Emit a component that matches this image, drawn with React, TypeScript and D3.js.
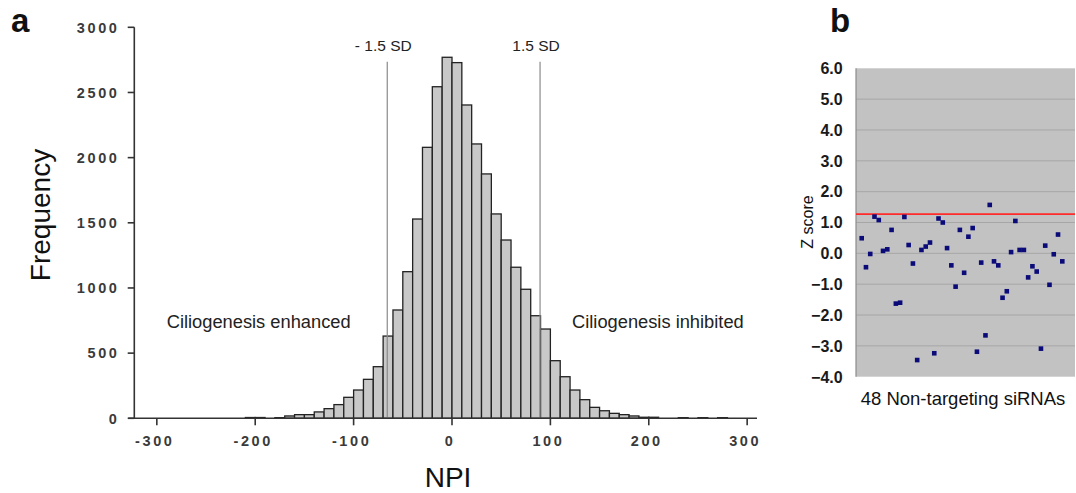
import * as d3 from "d3";

// panel a: NPI histogram (bin lower edge, width 10)
const binStarts = [
  -210, -200, -190, -180, -170, -160, -150, -140, -130, -120, -110, -100, -90,
  -80, -70, -60, -50, -40, -30, -20, -10, 0, 10, 20, 30, 40, 50, 60, 70, 80, 90,
  100, 110, 120, 130, 140, 150, 160, 170, 180, 190, 200, 210, 220, 230, 240,
  250, 260, 270,
];
const binCounts = [
  6, 6, 0, 5, 18, 28, 28, 49, 74, 105, 161, 217, 299, 396, 631, 831, 1125, 1529,
  2079, 2544, 2770, 2729, 2404, 2105, 1875, 1568, 1368, 1159, 990, 787, 685, 442,
  319, 217, 143, 84, 58, 38, 28, 18, 8, 8, 0, 0, 5, 0, 5, 0, 5,
];
const binWidth = 10;
const npiTicks = [-300, -200, -100, 0, 100, 200, 300];
const freqTicks = [0, 500, 1000, 1500, 2000, 2500, 3000];
const sdLines = [
  { label: "- 1.5 SD", value: -65.8 },
  { label: "1.5 SD", value: 89.5 },
];

// panel b: Z scores of 48 non-targeting siRNAs
const zScores = [
  0.49, -0.45, -0.02, 1.19, 1.08, 0.08, 0.13, 0.76, -1.63, -1.6, 1.18, 0.27,
  -0.33, -3.46, 0.11, 0.22, 0.35, -3.24, 1.13, 1.0, 0.17, -0.39, -1.08, 0.76,
  -0.63, 0.54, 0.82, -3.19, -0.3, -2.66, 1.57, -0.26, -0.39, -1.44, -1.23, 0.04,
  1.05, 0.11, 0.11, -0.78, -0.42, -0.59, -3.09, 0.25, -1.02, -0.03, 0.61, -0.26,
];
const zTicks = [-4, -3, -2, -1, 0, 1, 2, 3, 4, 5, 6];
const zCutoff = 1.27;

const FONT = "'Liberation Sans', Arial, sans-serif";

export default function App() {
  const x = d3.scaleLinear().domain([-329, 310]).range([128.3, 757]);
  const y = d3.scaleLinear().domain([0, 3000]).range([418.3, 27.3]);

  const zy = d3.scaleLinear().domain([-4, 6]).range([376.7, 68.3]);
  const zx = d3.scaleLinear().domain([1, 48]).range([861.7, 1062.3]);
  const plotL = 856;
  const plotR = 1075;

  return (
    <svg
      width={1076}
      height={493}
      style={{ position: "absolute", left: 0, top: 0, background: "#fff" }}
      fontFamily={FONT}
    >
      {/* panel letters */}
      <text x={11} y={32} fontSize={33} fontWeight="bold" fill="#111">
        a
      </text>
      <text x={830} y={32} fontSize={33} fontWeight="bold" fill="#111">
        b
      </text>

      {/* histogram bars */}
      {binStarts.map((b, i) =>
        binCounts[i] > 0 ? (
          <rect
            key={b}
            x={x(b)}
            y={y(binCounts[i])}
            width={x(b + binWidth) - x(b)}
            height={y(0) - y(binCounts[i])}
            fill="#c8c8c8"
            stroke="#222"
            strokeWidth={1.3}
          />
        ) : null
      )}

      {/* SD lines */}
      {sdLines.map((d) => (
        <g key={d.label}>
          <line
            x1={x(d.value)}
            x2={x(d.value)}
            y1={61.7}
            y2={y(0)}
            stroke="#8a8a8a"
            strokeWidth={1.2}
          />
          <text
            x={x(d.value) - 4}
            y={51}
            fontSize={15.5}
            textAnchor="middle"
            fill="#222"
          >
            {d.label}
          </text>
        </g>
      ))}

      {/* axes */}
      <line x1={x.range()[0]} x2={x.range()[1]} y1={y(0)} y2={y(0)} stroke="#333" strokeWidth={1.6} />
      <line x1={134.3} x2={134.3} y1={y(3000)} y2={y(0)} stroke="#333" strokeWidth={1.6} />
      {npiTicks.map((t) => (
        <g key={t}>
          <line x1={x(t)} x2={x(t)} y1={y(0)} y2={y(0) + 7} stroke="#333" strokeWidth={1.6} />
          <text
            x={x(t) - 2}
            y={445.5}
            fontSize={14.5}
            fontWeight="bold"
            letterSpacing={2.6}
            textAnchor="middle"
            fill="#3a3a3a"
          >
            {t < 0 ? `-${-t}` : t}
          </text>
        </g>
      ))}
      {freqTicks.map((t) => (
        <g key={t}>
          <line x1={127.7} x2={134.3} y1={y(t)} y2={y(t)} stroke="#333" strokeWidth={1.6} />
          <text
            x={119.5}
            y={y(t) + 5.2}
            fontSize={14.5}
            fontWeight="bold"
            letterSpacing={2.6}
            textAnchor="end"
            fill="#3a3a3a"
          >
            {t}
          </text>
        </g>
      ))}

      <text
        transform="translate(50,215) rotate(-90)"
        fontSize={28}
        textAnchor="middle"
        fill="#111"
      >
        Frequency
      </text>
      <text x={448} y={486.7} fontSize={28} textAnchor="middle" fill="#111">
        NPI
      </text>
      <text x={166.7} y={328.3} fontSize={18.3} fill="#222">
        Ciliogenesis enhanced
      </text>
      <text x={572} y={328.3} fontSize={18.3} fill="#222">
        Ciliogenesis inhibited
      </text>

      {/* panel b */}
      <rect x={plotL} y={zy(6)} width={plotR - plotL} height={zy(-4) - zy(6)} fill="#c2c2c2" />
      {zTicks.map((t) => (
        <g key={t}>
          {t > -4 && t < 6 ? (
            <line x1={plotL} x2={plotR} y1={zy(t)} y2={zy(t)} stroke="#a6a6a6" strokeWidth={1} />
          ) : null}
          <text
            x={842.7}
            y={zy(t) + 5.8}
            fontSize={16}
            fontWeight="bold"
            textAnchor="end"
            fill="#1a1a1a"
          >
            {d3.format(".1f")(t)}
          </text>
        </g>
      ))}
      <line x1={plotL} x2={plotL} y1={zy(6)} y2={zy(-4)} stroke="#8c8c8c" strokeWidth={1.2} />
      <line x1={plotL} x2={plotR} y1={zy(zCutoff)} y2={zy(zCutoff)} stroke="#ff2a2a" strokeWidth={1.6} />
      {zScores.map((v, i) => (
        <rect
          key={i}
          x={zx(i + 1) - 2.3}
          y={zy(v) - 2.3}
          width={4.6}
          height={4.6}
          fill="#0a0a78"
        />
      ))}
      <text
        transform="translate(813,222) rotate(-90)"
        fontSize={16}
        textAnchor="middle"
        fill="#111"
      >
        Z score
      </text>
      <text x={963} y={405} fontSize={18.5} textAnchor="middle" fill="#111">
        48 Non-targeting siRNAs
      </text>
    </svg>
  );
}
